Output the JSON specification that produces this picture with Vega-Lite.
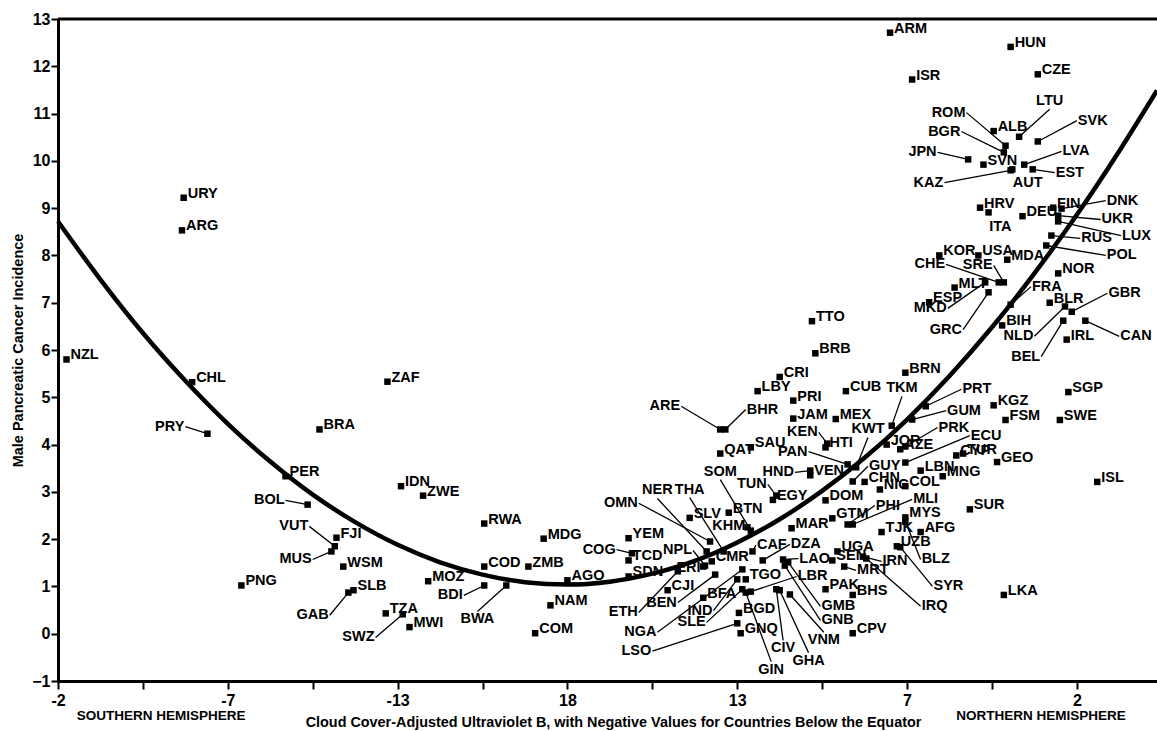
{
"$schema":"https://vega.github.io/schema/vega-lite/v6.json",
"width":1099,"height":662,"autosize":"none",
"padding":{"left":58,"top":19,"right":0,"bottom":50},
"background":"white",
"config":{"view":{"stroke":null},"font":"Liberation Sans","text":{"font":"Liberation Sans","fontSize":14.5,"fontWeight":"bold","color":"black"},
 "axis":{"grid":false,"domainColor":"black","domainWidth":3,"tickColor":"black","tickWidth":2,"labelFont":"Liberation Sans","labelFontSize":16,"labelFontWeight":"bold","labelColor":"black","labelFlush":false,"labelOverlap":false,"titleFont":"Liberation Sans","titleFontWeight":"bold","titleColor":"black"}},
"datasets":{
"pts":[
{"c":"URY","x":0.74,"y":9.22},{"c":"ARG","x":0.73,"y":8.53},{"c":"NZL","x":0.05,"y":5.80},{"c":"CHL","x":0.79,"y":5.32},
{"c":"BRA","x":1.54,"y":4.32},{"c":"PER","x":1.34,"y":3.33},{"c":"FJI","x":1.64,"y":2.03},{"c":"WSM","x":1.68,"y":1.42},
{"c":"PNG","x":1.08,"y":1.02},{"c":"SLB","x":1.74,"y":0.92},{"c":"ZAF","x":1.94,"y":5.33},{"c":"IDN","x":2.02,"y":3.12},
{"c":"ZWE","x":2.15,"y":2.92},{"c":"RWA","x":2.51,"y":2.33},{"c":"MDG","x":2.86,"y":2.01},{"c":"COD","x":2.51,"y":1.42},
{"c":"ZMB","x":2.77,"y":1.42},{"c":"AGO","x":3.00,"y":1.13},{"c":"MOZ","x":2.18,"y":1.11},{"c":"TZA","x":1.93,"y":0.43},
{"c":"MWI","x":2.07,"y":0.14},{"c":"NAM","x":2.90,"y":0.60},{"c":"COM","x":2.81,"y":0.01},{"c":"TTO","x":4.44,"y":6.61},
{"c":"BRB","x":4.46,"y":5.93},{"c":"CRI","x":4.25,"y":5.43},{"c":"LBY","x":4.12,"y":5.13},{"c":"PRI","x":4.33,"y":4.93},
{"c":"CUB","x":4.64,"y":5.13},{"c":"JAM","x":4.33,"y":4.55},{"c":"MEX","x":4.58,"y":4.54},{"c":"HTI","x":4.52,"y":3.94},
{"c":"QAT","x":3.90,"y":3.81},{"c":"SAU","x":4.08,"y":3.94},{"c":"BRN","x":4.99,"y":5.52},{"c":"KGZ","x":5.51,"y":4.83},
{"c":"FSM","x":5.58,"y":4.52},{"c":"JOR","x":4.88,"y":4.00},{"c":"AZE","x":4.96,"y":3.90},{"c":"TUR","x":5.33,"y":3.81},
{"c":"CYP","x":5.29,"y":3.77},{"c":"GEO","x":5.53,"y":3.63},{"c":"LBN","x":5.08,"y":3.45},{"c":"MNG","x":5.21,"y":3.33},
{"c":"CHN","x":4.75,"y":3.21},{"c":"NIC","x":4.84,"y":3.05},{"c":"COL","x":4.99,"y":3.12},{"c":"DOM","x":4.52,"y":2.82},
{"c":"GTM","x":4.56,"y":2.44},{"c":"MAR","x":4.32,"y":2.23},{"c":"MYS","x":4.99,"y":2.46},{"c":"TJK","x":4.85,"y":2.15},
{"c":"AFG","x":5.08,"y":2.15},{"c":"UZB","x":4.94,"y":1.85},{"c":"SUR","x":5.37,"y":2.63},{"c":"LKA","x":5.57,"y":0.82},
{"c":"UGA","x":4.59,"y":1.74},{"c":"SEN","x":4.56,"y":1.55},{"c":"PAK","x":4.52,"y":0.94},{"c":"BHS","x":4.68,"y":0.82},
{"c":"CPV","x":4.68,"y":0.01},{"c":"YEM","x":3.36,"y":2.02},{"c":"TCD","x":3.36,"y":1.55},{"c":"SDN","x":3.36,"y":1.21},
{"c":"SLV","x":3.72,"y":2.45},{"c":"CMR","x":3.85,"y":1.53},{"c":"CJI","x":3.59,"y":0.92},{"c":"BFA","x":3.80,"y":0.76},
{"c":"BGD","x":4.01,"y":0.44},{"c":"GNQ","x":4.02,"y":0.01},{"c":"BTN","x":3.95,"y":2.56},{"c":"EGY","x":4.21,"y":2.83},
{"c":"VEN","x":4.43,"y":3.35},{"c":"TGO","x":4.05,"y":1.15},{"c":"ARM","x":4.90,"y":12.71},{"c":"HUN","x":5.61,"y":12.41},
{"c":"ISR","x":5.03,"y":11.72},{"c":"CZE","x":5.77,"y":11.83},{"c":"ALB","x":5.51,"y":10.63},{"c":"SVN","x":5.45,"y":9.92},
{"c":"HRV","x":5.43,"y":9.01},{"c":"DEU","x":5.68,"y":8.83},{"c":"FIN","x":5.86,"y":9.01},{"c":"KOR","x":5.19,"y":8.00},
{"c":"USA","x":5.42,"y":8.00},{"c":"MDA","x":5.59,"y":7.91},{"c":"ESP","x":5.13,"y":7.01},{"c":"MLT","x":5.28,"y":7.32},
{"c":"NOR","x":5.89,"y":7.62},{"c":"BLR","x":5.84,"y":7.00},{"c":"BIH","x":5.56,"y":6.52},{"c":"IRL","x":5.94,"y":6.22},
{"c":"SGP","x":5.95,"y":5.11},{"c":"SWE","x":5.90,"y":4.52},{"c":"ISL","x":6.12,"y":3.21},
{"c":"ITA","x":5.48,"y":8.91,"lx":5.55,"ly":8.61,"s":"c"},
{"c":"KHM","x":4.06,"y":2.25,"lx":3.95,"ly":2.27,"s":"c"},
{"c":"AUT","x":5.62,"y":9.82,"lx":5.71,"ly":9.54,"s":"c"},
{"c":"PRY","x":0.88,"y":4.23,"lx":0.75,"ly":4.38,"s":"r"},
{"c":"BOL","x":1.47,"y":2.73,"lx":1.34,"ly":2.82,"s":"r"},
{"c":"VUT","x":1.63,"y":1.85,"lx":1.48,"ly":2.27,"s":"r"},
{"c":"MUS","x":1.61,"y":1.74,"lx":1.50,"ly":1.57,"s":"r"},
{"c":"GAB","x":1.71,"y":0.87,"lx":1.60,"ly":0.39,"s":"r"},
{"c":"BDI","x":2.51,"y":1.02,"lx":2.39,"ly":0.81,"s":"r"},
{"c":"BWA","x":2.64,"y":1.02,"lx":2.47,"ly":0.47,"s":"b"},
{"c":"SWZ","x":2.03,"y":0.41,"lx":1.87,"ly":-0.08,"s":"r"},
{"c":"COG","x":3.38,"y":1.70,"lx":3.29,"ly":1.78,"s":"r"},
{"c":"ARE","x":3.90,"y":4.32,"lx":3.67,"ly":4.81,"s":"r"},
{"c":"BHR","x":3.93,"y":4.32,"lx":4.05,"ly":4.74,"s":"l"},
{"c":"KEN","x":4.53,"y":4.02,"lx":4.48,"ly":4.26,"s":"r"},
{"c":"PAN","x":4.65,"y":3.58,"lx":4.42,"ly":3.85,"s":"r"},
{"c":"KWT","x":4.70,"y":3.52,"lx":4.77,"ly":4.15,"s":"t"},
{"c":"TKM","x":4.91,"y":4.40,"lx":4.97,"ly":5.02,"s":"t"},
{"c":"SOM","x":4.08,"y":2.18,"lx":3.90,"ly":3.26,"s":"t"},
{"c":"TUN","x":4.23,"y":2.92,"lx":4.18,"ly":3.16,"s":"r"},
{"c":"HND","x":4.43,"y":3.45,"lx":4.34,"ly":3.41,"s":"r"},
{"c":"OMN","x":3.84,"y":1.95,"lx":3.42,"ly":2.76,"s":"r"},
{"c":"NER","x":3.82,"y":1.74,"lx":3.53,"ly":2.86,"s":"t"},
{"c":"THA","x":3.92,"y":1.74,"lx":3.72,"ly":2.88,"s":"t"},
{"c":"NPL","x":3.81,"y":1.44,"lx":3.74,"ly":1.76,"s":"r"},
{"c":"ERI","x":3.80,"y":1.42,"lx":3.79,"ly":1.40,"s":"r"},
{"c":"BEN","x":3.87,"y":1.25,"lx":3.65,"ly":0.66,"s":"r"},
{"c":"IND","x":4.00,"y":1.15,"lx":3.86,"ly":0.49,"s":"r"},
{"c":"ETH","x":3.65,"y":1.32,"lx":3.42,"ly":0.45,"s":"r"},
{"c":"NGA","x":4.03,"y":1.36,"lx":3.53,"ly":0.03,"s":"r"},
{"c":"SLE","x":4.03,"y":0.94,"lx":3.82,"ly":0.24,"s":"r"},
{"c":"LSO","x":4.00,"y":0.22,"lx":3.50,"ly":-0.37,"s":"r"},
{"c":"CAF","x":4.09,"y":1.74,"lx":4.11,"ly":1.87,"s":"l"},
{"c":"DZA","x":4.15,"y":1.55,"lx":4.31,"ly":1.89,"s":"l"},
{"c":"LAO","x":4.27,"y":1.57,"lx":4.36,"ly":1.59,"s":"l"},
{"c":"LBR","x":4.08,"y":0.89,"lx":4.35,"ly":1.21,"s":"l"},
{"c":"GMB","x":4.30,"y":1.51,"lx":4.49,"ly":0.58,"s":"l"},
{"c":"GNB","x":4.28,"y":1.44,"lx":4.49,"ly":0.28,"s":"l"},
{"c":"VNM","x":4.31,"y":0.83,"lx":4.51,"ly":0.03,"s":"b"},
{"c":"GHA","x":4.25,"y":0.92,"lx":4.42,"ly":-0.40,"s":"b"},
{"c":"CIV","x":4.23,"y":0.94,"lx":4.27,"ly":-0.14,"s":"b"},
{"c":"GIN","x":4.05,"y":0.87,"lx":4.20,"ly":-0.59,"s":"b"},
{"c":"MRT","x":4.63,"y":1.42,"lx":4.70,"ly":1.34,"s":"l"},
{"c":"IRN","x":4.74,"y":1.63,"lx":4.85,"ly":1.53,"s":"l"},
{"c":"IRQ","x":4.76,"y":1.59,"lx":5.08,"ly":0.58,"s":"l"},
{"c":"SYR","x":4.96,"y":1.83,"lx":5.15,"ly":1.00,"s":"l"},
{"c":"BLZ","x":4.99,"y":2.37,"lx":5.08,"ly":1.57,"s":"l"},
{"c":"MLI","x":4.68,"y":2.31,"lx":5.03,"ly":2.84,"s":"l"},
{"c":"PHI","x":4.65,"y":2.31,"lx":4.81,"ly":2.71,"s":"l"},
{"c":"GUY","x":4.68,"y":3.22,"lx":4.77,"ly":3.54,"s":"l"},
{"c":"PRT","x":5.11,"y":4.81,"lx":5.32,"ly":5.17,"s":"l"},
{"c":"GUM","x":5.03,"y":4.53,"lx":5.23,"ly":4.72,"s":"l"},
{"c":"PRK","x":4.99,"y":3.96,"lx":5.18,"ly":4.36,"s":"l"},
{"c":"ECU","x":4.99,"y":3.62,"lx":5.37,"ly":4.19,"s":"l"},
{"c":"ROM","x":5.58,"y":10.32,"lx":5.35,"ly":11.02,"s":"r"},
{"c":"LTU","x":5.66,"y":10.51,"lx":5.84,"ly":11.09,"s":"t"},
{"c":"SVK","x":5.77,"y":10.41,"lx":6.00,"ly":10.85,"s":"l"},
{"c":"BGR","x":5.57,"y":10.18,"lx":5.32,"ly":10.62,"s":"r"},
{"c":"JPN","x":5.36,"y":10.03,"lx":5.18,"ly":10.18,"s":"r"},
{"c":"LVA","x":5.69,"y":9.92,"lx":5.91,"ly":10.20,"s":"l"},
{"c":"EST","x":5.74,"y":9.82,"lx":5.87,"ly":9.75,"s":"l"},
{"c":"KAZ","x":5.61,"y":9.80,"lx":5.22,"ly":9.54,"s":"r"},
{"c":"DNK","x":5.91,"y":8.99,"lx":6.17,"ly":9.16,"s":"l"},
{"c":"UKR","x":5.89,"y":8.84,"lx":6.14,"ly":8.76,"s":"l"},
{"c":"LUX","x":5.89,"y":8.72,"lx":6.26,"ly":8.42,"s":"l"},
{"c":"RUS","x":5.85,"y":8.42,"lx":6.02,"ly":8.36,"s":"l"},
{"c":"POL","x":5.82,"y":8.21,"lx":6.17,"ly":8.00,"s":"l"},
{"c":"CHE","x":5.54,"y":7.43,"lx":5.23,"ly":7.81,"s":"r"},
{"c":"SRE","x":5.57,"y":7.43,"lx":5.51,"ly":7.79,"s":"r"},
{"c":"MKD","x":5.46,"y":7.43,"lx":5.24,"ly":6.88,"s":"r"},
{"c":"GRC","x":5.48,"y":7.22,"lx":5.33,"ly":6.43,"s":"r"},
{"c":"FRA","x":5.61,"y":6.96,"lx":5.73,"ly":7.34,"s":"l"},
{"c":"GBR","x":5.97,"y":6.81,"lx":6.18,"ly":7.20,"s":"l"},
{"c":"NLD","x":5.93,"y":6.92,"lx":5.75,"ly":6.29,"s":"r"},
{"c":"BEL","x":5.92,"y":6.62,"lx":5.79,"ly":5.86,"s":"r"},
{"c":"CAN","x":6.05,"y":6.62,"lx":6.25,"ly":6.29,"s":"l"}
],
"curve":[
{"x":0,"y":8.72},{"x":0.25,"y":7.49},{"x":0.5,"y":6.36},{"x":0.75,"y":5.35},{"x":1.0,"y":4.44},{"x":1.25,"y":3.64},
{"x":1.5,"y":2.94},{"x":1.75,"y":2.36},{"x":2.0,"y":1.88},{"x":2.25,"y":1.51},{"x":2.5,"y":1.25},{"x":2.75,"y":1.09},
{"x":3.0,"y":1.04},{"x":3.25,"y":1.10},{"x":3.5,"y":1.27},{"x":3.75,"y":1.54},{"x":4.0,"y":1.93},{"x":4.25,"y":2.42},
{"x":4.5,"y":3.02},{"x":4.75,"y":3.72},{"x":5.0,"y":4.53},{"x":5.25,"y":5.45},{"x":5.5,"y":6.48},{"x":5.75,"y":7.62},
{"x":6.0,"y":8.86},{"x":6.25,"y":10.21},{"x":6.472,"y":11.49}
],
"notes":[
{"t":"SOUTHERN HEMISPHERE","x":0.11,"y":-1.73},
{"t":"NORTHERN HEMISPHERE","x":5.29,"y":-1.73}
]
},
"layer":[
{"data":{"name":"pts"},
 "mark":{"type":"square","filled":true,"size":42,"color":"black","opacity":1},
 "encoding":{
  "x":{"field":"x","type":"quantitative","scale":{"domain":[0,6.472],"nice":false,"zero":false},
   "axis":{"title":"Cloud Cover-Adjusted Ultraviolet B, with Negative Values for Countries Below the Equator",
    "values":[0,0.5,1,1.5,2,2.5,3,3.5,4,4.5,5,5.5,6],
    "labelExpr":"datum.value == 0 ? '-2' : datum.value == 1 ? '-7' : datum.value == 2 ? '-13' : datum.value == 3 ? '18' : datum.value == 4 ? '13' : datum.value == 5 ? '7' : datum.value == 6 ? '2' : ''",
    "tickSize":8,"labelPadding":3,
    "titleFontSize":14.4,"titleX":555,"titleY":41,"titleBaseline":"middle","titleAlign":"center"}},
  "y":{"field":"y","type":"quantitative","scale":{"domain":[-1,13],"nice":false,"zero":false},
   "axis":{"title":"Male Pancreatic Cancer Incidence","values":[-1,0,1,2,3,4,5,6,7,8,9,10,11,12,13],"format":"d",
    "tickSize":7,"labelPadding":1,"titleFontSize":14.5,"titleX":-39.5,"titleBaseline":"middle"}}}},
{"data":{"values":[{"v":13}]},
 "mark":{"type":"rule","strokeWidth":3,"color":"black"},
 "encoding":{"y":{"field":"v","type":"quantitative","scale":{"domain":[-1,13],"nice":false,"zero":false}}}},
{"data":{"name":"curve"},
 "mark":{"type":"line","strokeWidth":4.5,"color":"black","interpolate":"monotone"},
 "encoding":{
  "x":{"field":"x","type":"quantitative","scale":{"domain":[0,6.472],"nice":false,"zero":false}},
  "y":{"field":"y","type":"quantitative","scale":{"domain":[-1,13],"nice":false,"zero":false}}}},
{"data":{"name":"pts"},
 "transform":[{"filter":"datum.s && datum.s !== 'c'"}],
 "mark":{"type":"rule","strokeWidth":1.3,"color":"black"},
 "encoding":{
  "x":{"field":"lx","type":"quantitative","scale":{"domain":[0,6.472],"nice":false,"zero":false}},
  "y":{"field":"ly","type":"quantitative","scale":{"domain":[-1,13],"nice":false,"zero":false}},
  "x2":{"field":"x"},"y2":{"field":"y"}}},
{"data":{"name":"pts"},
 "transform":[{"filter":"!datum.s"}],
 "mark":{"type":"text","align":"left","baseline":"alphabetic","dx":4,"dy":0},
 "encoding":{
  "x":{"field":"x","type":"quantitative","scale":{"domain":[0,6.472],"nice":false,"zero":false}},
  "y":{"field":"y","type":"quantitative","scale":{"domain":[-1,13],"nice":false,"zero":false}},
  "text":{"field":"c"}}},
{"data":{"name":"pts"},
 "transform":[{"filter":"datum.s === 'r'"}],
 "mark":{"type":"text","align":"right","baseline":"middle","dx":-1},
 "encoding":{
  "x":{"field":"lx","type":"quantitative","scale":{"domain":[0,6.472],"nice":false,"zero":false}},
  "y":{"field":"ly","type":"quantitative","scale":{"domain":[-1,13],"nice":false,"zero":false}},
  "text":{"field":"c"}}},
{"data":{"name":"pts"},
 "transform":[{"filter":"datum.s === 'l'"}],
 "mark":{"type":"text","align":"left","baseline":"middle","dx":1},
 "encoding":{
  "x":{"field":"lx","type":"quantitative","scale":{"domain":[0,6.472],"nice":false,"zero":false}},
  "y":{"field":"ly","type":"quantitative","scale":{"domain":[-1,13],"nice":false,"zero":false}},
  "text":{"field":"c"}}},
{"data":{"name":"pts"},
 "transform":[{"filter":"datum.s === 't'"}],
 "mark":{"type":"text","align":"center","baseline":"bottom","dy":-1},
 "encoding":{
  "x":{"field":"lx","type":"quantitative","scale":{"domain":[0,6.472],"nice":false,"zero":false}},
  "y":{"field":"ly","type":"quantitative","scale":{"domain":[-1,13],"nice":false,"zero":false}},
  "text":{"field":"c"}}},
{"data":{"name":"pts"},
 "transform":[{"filter":"datum.s === 'b'"}],
 "mark":{"type":"text","align":"center","baseline":"top","dy":1},
 "encoding":{
  "x":{"field":"lx","type":"quantitative","scale":{"domain":[0,6.472],"nice":false,"zero":false}},
  "y":{"field":"ly","type":"quantitative","scale":{"domain":[-1,13],"nice":false,"zero":false}},
  "text":{"field":"c"}}},
{"data":{"name":"pts"},
 "transform":[{"filter":"datum.s === 'c'"}],
 "mark":{"type":"text","align":"center","baseline":"middle"},
 "encoding":{
  "x":{"field":"lx","type":"quantitative","scale":{"domain":[0,6.472],"nice":false,"zero":false}},
  "y":{"field":"ly","type":"quantitative","scale":{"domain":[-1,13],"nice":false,"zero":false}},
  "text":{"field":"c"}}},
{"data":{"name":"notes"},
 "mark":{"type":"text","align":"left","baseline":"middle","fontSize":13.5},
 "encoding":{
  "x":{"field":"x","type":"quantitative","scale":{"domain":[0,6.472],"nice":false,"zero":false}},
  "y":{"field":"y","type":"quantitative","scale":{"domain":[-1,13],"nice":false,"zero":false}},
  "text":{"field":"t"}}}
]
}
